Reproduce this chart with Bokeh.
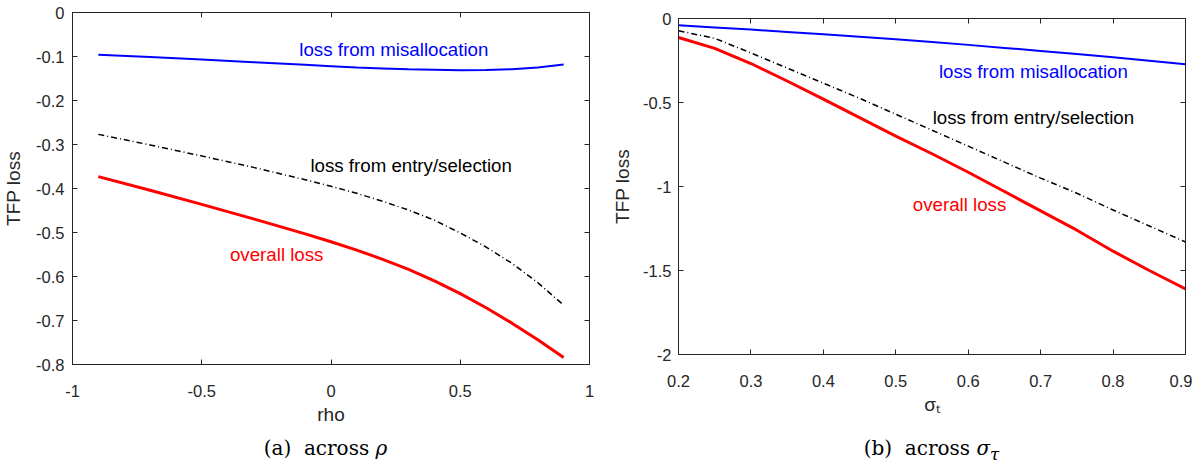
from bokeh.plotting import figure
from bokeh.models import FixedTicker, LinearAxis, Range1d, Label, Div, CustomJSTickFormatter
from bokeh.layouts import row, column
from bokeh.embed import file_html
from bokeh.resources import INLINE

# ---------------- data: panel (a) across rho ----------------
rho = [-0.9, -0.7, -0.5, -0.3, -0.1, 0.0, 0.1, 0.2, 0.3, 0.4, 0.5, 0.6, 0.7, 0.8, 0.9]
a_misalloc = [-0.096, -0.101, -0.107, -0.113, -0.119, -0.122, -0.125, -0.127, -0.129,
              -0.130, -0.131, -0.1305, -0.129, -0.125, -0.118]
a_entry = [-0.277, -0.301, -0.326, -0.352, -0.380, -0.395, -0.411, -0.429, -0.449,
           -0.472, -0.501, -0.533, -0.570, -0.614, -0.665]
a_overall = [-0.373, -0.404, -0.436, -0.469, -0.503, -0.521, -0.540, -0.561, -0.584,
             -0.610, -0.639, -0.671, -0.706, -0.744, -0.784]
a_xticks = [-1, -0.5, 0, 0.5, 1]
a_xlabels = ["-1", "-0.5", "0", "0.5", "1"]
a_yticks = [-0.8, -0.7, -0.6, -0.5, -0.4, -0.3, -0.2, -0.1, 0]
a_ylabels = ["-0.8", "-0.7", "-0.6", "-0.5", "-0.4", "-0.3", "-0.2", "-0.1", "0"]

# ---------------- data: panel (b) across sigma_tau ----------------
sig = [0.2, 0.25, 0.3, 0.35, 0.4, 0.45, 0.5, 0.55, 0.6, 0.65, 0.7, 0.75, 0.8, 0.85, 0.9]
b_misalloc = [-0.040, -0.053, -0.066, -0.080, -0.094, -0.109, -0.124, -0.140, -0.157,
              -0.175, -0.193, -0.212, -0.231, -0.251, -0.272]
b_entry = [-0.073, -0.118, -0.205, -0.295, -0.385, -0.475, -0.570, -0.665, -0.760,
           -0.855, -0.950, -1.040, -1.140, -1.235, -1.330]
b_overall = [-0.113, -0.178, -0.268, -0.372, -0.480, -0.590, -0.700, -0.805, -0.915,
             -1.030, -1.145, -1.260, -1.385, -1.500, -1.610]
b_xticks = [0.2, 0.3, 0.4, 0.5, 0.6, 0.7, 0.8, 0.9]
b_xlabels = ["0.2", "0.3", "0.4", "0.5", "0.6", "0.7", "0.8", "0.9"]
b_yticks = [-2, -1.5, -1, -0.5, 0]
b_ylabels = ["-2", "-1.5", "-1", "-0.5", "0"]

AX = "#262626"
SANS = "Liberation Sans"
BLUE = "#0000FF"
RED = "#FF0000"


def style(p, xt, xl, yt, yl, xlabel, ystand, ylabstand):
    p.xaxis.ticker = FixedTicker(ticks=xt)
    p.yaxis.ticker = FixedTicker(ticks=yt)
    p.xaxis.major_label_overrides = {t: l for t, l in zip(xt, xl)}
    p.yaxis.major_label_overrides = {t: l for t, l in zip(yt, yl)}
    p.xgrid.visible = False
    p.ygrid.visible = False
    p.outline_line_color = AX
    p.outline_line_width = 1
    p.background_fill_color = "white"
    p.border_fill_color = "white"
    for ax in (p.xaxis[0], p.yaxis[0]):
        ax.axis_line_color = AX
        ax.major_tick_line_color = AX
        ax.major_tick_in = 5
        ax.major_tick_out = 0
        ax.minor_tick_line_color = None
        ax.major_label_text_color = AX
        ax.major_label_text_font = SANS
        ax.major_label_text_font_size = "16.5px"
        ax.axis_label_text_font = SANS
        ax.axis_label_text_font_size = "19px"
        ax.axis_label_text_font_style = "normal"
        ax.axis_label_text_color = AX
    p.xaxis.axis_label = xlabel
    p.xaxis.major_label_standoff = 20
    p.xaxis.axis_label_standoff = 4
    p.yaxis.axis_label = "TFP loss"
    p.yaxis.major_label_standoff = ystand
    p.yaxis.axis_label_standoff = ylabstand
    # mirrored ticks on top and right (MATLAB box)
    blank = CustomJSTickFormatter(code="return ''")
    top = LinearAxis(ticker=FixedTicker(ticks=xt), formatter=blank)
    right = LinearAxis(ticker=FixedTicker(ticks=yt), formatter=blank)
    for ax in (top, right):
        ax.axis_line_color = AX
        ax.major_tick_line_color = AX
        ax.major_tick_in = 5
        ax.major_tick_out = 0
        ax.minor_tick_line_color = None
        ax.major_label_standoff = 0
    p.add_layout(top, "above")
    p.add_layout(right, "right")


def lab(p, x, y, text, color):
    p.add_layout(Label(x=x, y=y, text=text, text_color=color, text_font=SANS,
                       text_font_size="18.7px", text_align="center",
                       text_baseline="middle"))


# ---------------- panel (a) ----------------
p1 = figure(frame_width=517, frame_height=352, x_range=Range1d(-1, 1),
            y_range=Range1d(-0.8, 0), output_backend="svg", toolbar_location=None,
            min_border_left=67, min_border_right=8, min_border_top=12,
            min_border_bottom=66)
style(p1, a_xticks, a_xlabels, a_yticks, a_ylabels, "rho", 8, 9)
p1.line(rho, a_misalloc, line_color=BLUE, line_width=2)
p1.line(rho, a_entry, line_color="black", line_width=1.5, line_dash="6 3 1 3")
p1.line(rho, a_overall, line_color=RED, line_width=3)
lab(p1, 0.243, -0.084, "loss from misallocation", BLUE)
lab(p1, 0.31, -0.348, "loss from entry/selection", "black")
lab(p1, -0.21, -0.55, "overall loss", RED)

# ---------------- panel (b) ----------------
p2 = figure(frame_width=507, frame_height=336, x_range=Range1d(0.2, 0.9),
            y_range=Range1d(-2, 0), output_backend="svg", toolbar_location=None,
            min_border_left=81, min_border_right=7, min_border_top=18,
            min_border_bottom=76)
style(p2, b_xticks, b_xlabels, b_yticks, b_ylabels, "σₜ", 7, 7)
p2.line(sig, b_misalloc, line_color=BLUE, line_width=2)
p2.line(sig, b_entry, line_color="black", line_width=1.5, line_dash="6 3 1 3")
p2.line(sig, b_overall, line_color=RED, line_width=3)
lab(p2, 0.69, -0.315, "loss from misallocation", BLUE)
lab(p2, 0.69, -0.589, "loss from entry/selection", "black")
lab(p2, 0.588, -1.107, "overall loss", RED)

cap_style = {"text-align": "center", "font-family": "'DejaVu Serif', 'Liberation Serif', serif",
             "font-size": "20px", "line-height": "36px", "color": "black"}
d1 = Div(text="(a)&nbsp; across <i>ρ</i>", width=517, height=36, margin=(0, 0, -15, 67),
         styles=cap_style)
d2 = Div(text="(b)&nbsp; across <i>σ<sub>τ</sub></i>", width=507, height=36,
         margin=(0, 0, -15, 81), styles=cap_style)

layout = row(column(p1, d1), column(p2, d2))
open("out.html", "w").write(file_html(layout, INLINE))
